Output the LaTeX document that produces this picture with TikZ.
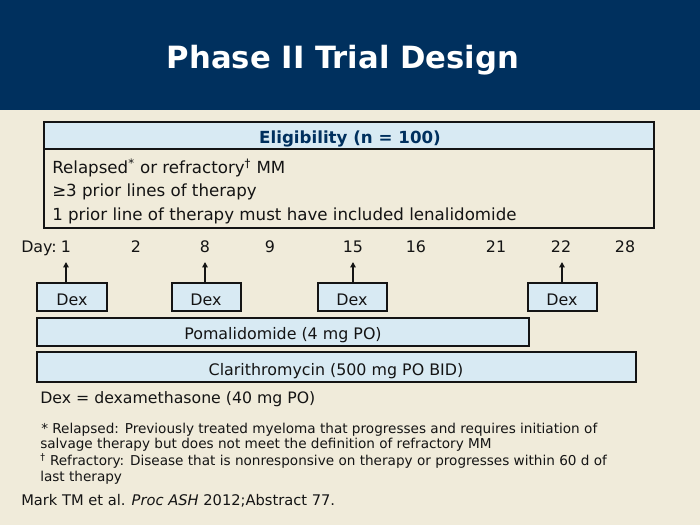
\documentclass[tikz,border=0pt]{standalone}
\usepackage{fontspec}
\setmainfont{DejaVu Sans}
\usetikzlibrary{arrows.meta,fit}
\definecolor{navy}{RGB}{0,48,94}
\definecolor{beige}{RGB}{240,235,218}
\definecolor{lblue}{RGB}{216,234,243}
\definecolor{ink}{RGB}{20,20,20}
\begin{document}
\begin{tikzpicture}[x=0.75pt,y=-0.75pt,
  box/.style={draw=ink,line width=1.2pt,fill=lblue,inner sep=0pt,text=ink,font=\fontsize{11.5}{13}\selectfont},
  txt/.style={inner sep=0pt,text=ink,font=\fontsize{11.9}{13}\selectfont},
  elig/.style={inner sep=0pt,text=ink,font=\fontsize{12.5}{14}\selectfont},
  small/.style={inner sep=0pt,text=ink,font=\fontsize{10.2}{12}\selectfont},
  arr/.style={line width=1.1pt,draw=ink,-{Triangle[length=4pt,width=4pt]}}]
\useasboundingbox (0,0) rectangle (700,525);
\fill[beige] (0,0) rectangle (700,525);
\fill[navy] (0,0) rectangle (700,110);
\node[inner sep=0pt,text=white,font=\fontsize{23}{26}\bfseries\selectfont,anchor=base] (title) at (343,68) {Phase II Trial Design};
% eligibility
\node[box,fit={(44,122)(654,149)}] (elighead) {};
\node[inner sep=0pt,text=navy,font=\fontsize{12.5}{14}\bfseries\selectfont,anchor=base] (eligt) at (350,143) {Eligibility (n = 100)};
\node[draw=ink,line width=1.2pt,inner sep=0pt,fit={(44,149)(654,228)}] (eligbody) {};
\node[elig,anchor=base west] (e1) at (52,173) {Relapsed\textsuperscript{*} or refractory\textsuperscript{†} MM};
\node[elig,anchor=base west] (e2) at (52,196) {≥3 prior lines of therapy};
\node[elig,anchor=base west] (e3) at (52,220) {1 prior line of therapy must have included lenalidomide};
% days
\node[txt,anchor=base west] (dayl) at (21,252) {Day:};
\node[txt,anchor=base] (day1) at (66,252) {1};
\node[txt,anchor=base] (day2) at (136,252) {2};
\node[txt,anchor=base] (day8) at (205,252) {8};
\node[txt,anchor=base] (day9) at (270,252) {9};
\node[txt,anchor=base] (day15) at (353,252) {15};
\node[txt,anchor=base] (day16) at (416,252) {16};
\node[txt,anchor=base] (day21) at (496,252) {21};
\node[txt,anchor=base] (day22) at (561,252) {22};
\node[txt,anchor=base] (day28) at (625,252) {28};
% dex boxes
\node[box,fit={(37,283)(107,311)}] (dex1) {};
\node[box,fit={(172,283)(241,311)}] (dex2) {};
\node[box,fit={(318,283)(387,311)}] (dex3) {};
\node[box,fit={(528,283)(597,311)}] (dex4) {};
\node[txt,anchor=base] (dex1t) at (72,305) {Dex};
\node[txt,anchor=base] (dex2t) at (206,305) {Dex};
\node[txt,anchor=base] (dex3t) at (352,305) {Dex};
\node[txt,anchor=base] (dex4t) at (562,305) {Dex};
\coordinate (a1) at (66,262);
\coordinate (a2) at (205,262);
\coordinate (a3) at (353,262);
\coordinate (a4) at (562,262);
\draw[arr] (dex1.north -| a1) -- (a1);
\draw[arr] (dex2.north -| a2) -- (a2);
\draw[arr] (dex3.north -| a3) -- (a3);
\draw[arr] (dex4.north -| a4) -- (a4);
% drug bars
\node[box,fit={(37,318)(529,346)}] (poma) {};
\node[txt,anchor=base] (pomat) at (283,339) {Pomalidomide (4 mg PO)};
\node[box,fit={(37,352)(636,382)}] (clar) {};
\node[txt,anchor=base] (clart) at (336,375) {Clarithromycin (500 mg PO BID)};
\node[elig,anchor=base west,font=\fontsize{11.8}{14}\selectfont] (dexdef) at (40,403) {Dex = dexamethasone (40 mg PO)};
% footnotes
\node[small,anchor=base west] (f1) at (41,433) {* Relapsed: Previously treated myeloma that progresses and requires initiation of};
\node[small,anchor=base west] (f2) at (40,448) {salvage therapy but does not meet the definition of refractory MM};
\node[small,anchor=base west] (f3) at (40,465) {\textsuperscript{†} Refractory: Disease that is nonresponsive on therapy or progresses within 60 d of};
\node[small,anchor=base west] (f4) at (40,481) {last therapy};
\node[txt,anchor=base west,font=\fontsize{11}{13}\selectfont] (ref) at (21,505) {Mark TM et al. \textit{Proc ASH} 2012;Abstract 77.};
\end{tikzpicture}
\end{document}
